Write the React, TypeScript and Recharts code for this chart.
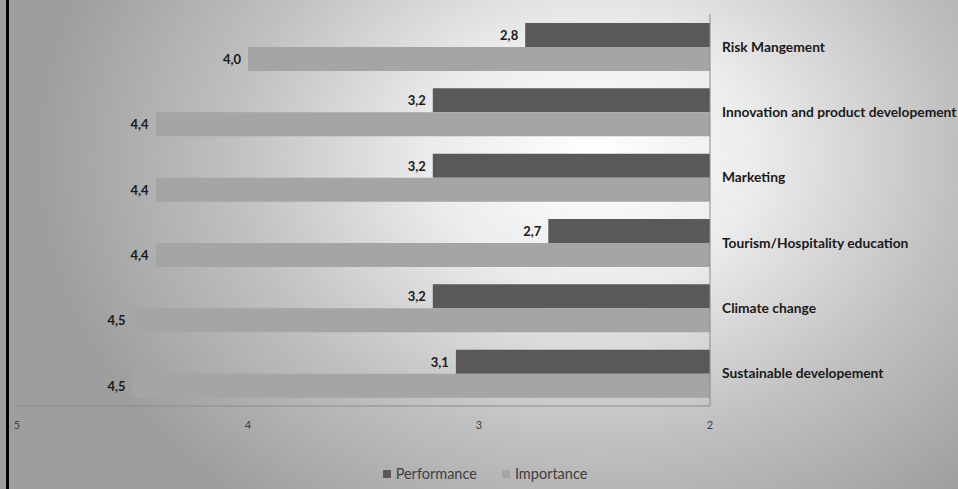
import { Bar, BarChart, LabelList, Legend, XAxis, YAxis } from "recharts";

const topics = [
  "Risk Mangement",
  "Innovation and product developement",
  "Marketing",
  "Tourism/Hospitality education",
  "Climate change",
  "Sustainable developement",
];
const performance = [2.8, 3.2, 3.2, 2.7, 3.2, 3.1];
const importance = [4.0, 4.4, 4.4, 4.4, 4.5, 4.5];
const scaleTicks = [5, 4, 3, 2];

const rows = topics.map((topic, i) => ({ topic, performance: performance[i], importance: importance[i] }));

const font = "Lato, 'Noto Sans', sans-serif";
const perfColor = "#595959";
const impColor = "#a5a5a5";

const comma = (v: number) => Number(v).toFixed(1).replace(".", ",");

// bars grow leftwards from 2, so the value sits past the bar's left end
function ValueLabel(props: any) {
  const { x, y, width, height, value } = props;
  const left = Math.min(Number(x), Number(x) + Number(width));
  return (
    <text
      x={left - 7}
      y={Number(y) + Number(height) / 2}
      textAnchor="end"
      dominantBaseline="central"
      fontFamily={font}
      fontWeight={700}
      fontSize={13}
      fill="#1a1a1a"
    >
      {comma(value)}
    </text>
  );
}

function LegendContent() {
  const items = [
    { name: "Performance", color: perfColor },
    { name: "Importance", color: impColor },
  ];
  return (
    <div style={{ display: "flex", justifyContent: "center", gap: 25, paddingLeft: 12, fontFamily: font, fontSize: 14.5, color: "#404040" }}>
      {items.map((it) => (
        <span key={it.name} style={{ display: "flex", alignItems: "center", gap: 5 }}>
          <span style={{ width: 8, height: 8, background: it.color, display: "inline-block" }} />
          {it.name}
        </span>
      ))}
    </div>
  );
}

export default function App() {
  return (
    <div
      style={{
        position: "absolute",
        left: 0,
        top: 0,
        width: 958,
        height: 489,
        overflow: "hidden",
        background: "radial-gradient(ellipse 58% 90% at 62% 32%, #ffffff 0%, #ebebeb 30%, #c0c0c0 65%, #9e9e9e 100%)",
      }}
    >
      <div style={{ position: "absolute", left: 6, top: 0, width: 3, height: 489, background: "#000" }} />
      <BarChart
        width={958}
        height={489}
        data={rows}
        layout="vertical"
        margin={{ top: 14, right: 0, left: 17, bottom: 53 }}
        barSize={24}
        barGap={0}
      >
        <XAxis
          type="number"
          domain={[2, 5]}
          ticks={scaleTicks}
          reversed
          height={30}
          axisLine={{ stroke: "#8c8c8c" }}
          tickLine={false}
          tickMargin={9}
          tick={{ fill: "#404040", fontSize: 11, fontFamily: font }}
        />
        <YAxis
          type="category"
          dataKey="topic"
          orientation="right"
          width={248}
          axisLine={{ stroke: "#8a8a8a" }}
          tickLine={false}
          tickMargin={6}
          tick={{ fill: "#1a1a1a", fontSize: 13.8, fontWeight: 700, fontFamily: font }}
        />
        <Legend verticalAlign="middle" content={<LegendContent />} wrapperStyle={{ top: 465, left: 0, width: 958 }} />
        <Bar dataKey="performance" name="Performance" fill={perfColor} isAnimationActive={false}>
          <LabelList dataKey="performance" content={<ValueLabel />} />
        </Bar>
        <Bar dataKey="importance" name="Importance" fill={impColor} isAnimationActive={false}>
          <LabelList dataKey="importance" content={<ValueLabel />} />
        </Bar>
      </BarChart>
    </div>
  );
}
